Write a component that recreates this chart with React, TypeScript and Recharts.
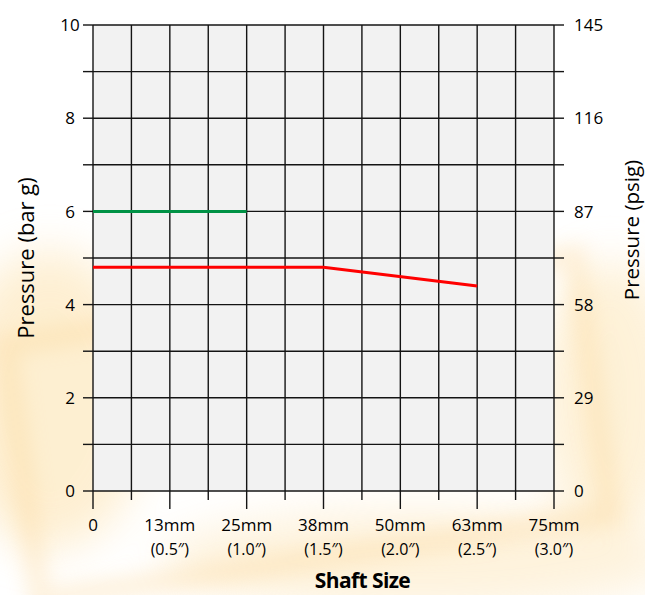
import React from 'react';
import { LineChart, Line, XAxis, YAxis, CartesianGrid } from 'recharts';

const xTicks = [0, 0.25, 0.5, 0.75, 1, 1.25, 1.5, 1.75, 2, 2.25, 2.5, 2.75, 3];
const majorX = [0, 0.5, 1, 1.5, 2, 2.5, 3];
const mmLabels = ['0', '13mm', '25mm', '38mm', '50mm', '63mm', '75mm'];
const inchLabels = ['', '(0.5″)', '(1.0″)', '(1.5″)', '(2.0″)', '(2.5″)', '(3.0″)'];
const barTicks = [0, 1, 2, 3, 4, 5, 6, 7, 8, 9, 10];
const barLabels = ['0', '', '2', '', '4', '', '6', '', '8', '', '10'];
const psigLabels = ['0', '', '29', '', '58', '', '87', '', '116', '', '145'];

const greenSeries = [
  { x: 0, y: 6 },
  { x: 1, y: 6 },
];
const redSeries = [
  { x: 0, y: 4.8 },
  { x: 1.5, y: 4.8 },
  { x: 2.5, y: 4.4 },
];

const FONT = '"Open Sans", "Noto Sans", sans-serif';
const INK = '#141414';
const TXT = '#000';

function XTick(props: any) {
  const { x, y, payload } = props;
  const idx = majorX.indexOf(payload.value);
  const major = idx >= 0;
  return (
    <g>
      <line x1={x} x2={x} y1={y} y2={y + (major ? 18 : 9)} stroke={INK} strokeWidth={1.4} />
      {major && (
        <text x={x} y={y + 40} textAnchor="middle" fontSize={17} fill={TXT} fontFamily={FONT}>
          {mmLabels[idx]}
        </text>
      )}
      {major && inchLabels[idx] && (
        <text x={x} y={y + 64} textAnchor="middle" fontSize={16} fill={TXT} fontFamily={FONT}>
          {inchLabels[idx]}
        </text>
      )}
    </g>
  );
}

function LeftTick(props: any) {
  const { x, y, payload } = props;
  const i = barTicks.indexOf(payload.value);
  return (
    <text x={x - 13} y={y} dy="0.36em" textAnchor="middle" fontSize={17} fill={TXT} fontFamily={FONT}>
      {barLabels[i]}
    </text>
  );
}

function RightTick(props: any) {
  const { x, y, payload } = props;
  const i = barTicks.indexOf(payload.value);
  return (
    <text x={x + 10} y={y} dy="0.36em" textAnchor="start" fontSize={17} fill={TXT} fontFamily={FONT}>
      {psigLabels[i]}
    </text>
  );
}

function Watermark() {
  return (
    <svg width={645} height={595} style={{ position: 'absolute', left: 0, top: 0 }}>
      <defs>
        <filter id="blurBig" x="-50%" y="-50%" width="200%" height="200%">
          <feGaussianBlur stdDeviation="22" />
        </filter>
        <filter id="blurSmall" x="-50%" y="-50%" width="200%" height="200%">
          <feGaussianBlur stdDeviation="10" />
        </filter>
      </defs>
      <g filter="url(#blurBig)" opacity={0.55}>
        <ellipse cx={50} cy={400} rx={100} ry={150} fill="#fde2ad" />
        <ellipse cx={610} cy={400} rx={70} ry={140} fill="#fde6b8" />
        <ellipse cx={420} cy={560} rx={260} ry={50} fill="#fde8c0" />
      </g>
      <g filter="url(#blurSmall)" opacity={0.3}>
        <polygon
          points="5,345 575,255 610,515 40,600"
          fill="none"
          stroke="#fbd28e"
          strokeWidth={22}
        />
      </g>
    </svg>
  );
}

export default function App() {
  return (
    <div style={{ position: 'absolute', left: 0, top: 0, width: 645, height: 595 }}>
      <Watermark />
      <div style={{ position: 'absolute', left: 0, top: 0 }}>
        <LineChart
          width={645}
          height={595}
          margin={{ top: 25, right: 0, bottom: 34, left: 0 }}
        >
          <CartesianGrid
            yAxisId="left"
            fill="#f2f2f2"
            fillOpacity={1}
            stroke={INK}
            strokeWidth={1.4}
            horizontal
            vertical
          />
          <XAxis
            type="number"
            dataKey="x"
            domain={[0, 3]}
            ticks={xTicks}
            interval={0}
            height={70}
            tickSize={0}
            tickMargin={0}
            tickLine={false}
            axisLine={false}
            tick={<XTick />}
            label={{
              content: (p: any) => {
                const vb = p.viewBox;
                return (
                  <text
                    x={vb.x + vb.width / 2 + 39}
                    y={vb.y + 97}
                    textAnchor="middle"
                    fontSize={21}
                    fontWeight={700}
                    fill={TXT}
                    fontFamily={FONT}
                    letterSpacing={-0.6}
                  >
                    Shaft Size
                  </text>
                );
              },
            }}
          />
          <YAxis
            yAxisId="left"
            orientation="left"
            type="number"
            domain={[0, 10]}
            ticks={barTicks}
            interval={0}
            width={93}
            tickSize={10}
            tickMargin={0}
            tickLine={{ stroke: INK, strokeWidth: 1.4 }}
            axisLine={false}
            tick={<LeftTick />}
            label={{
              content: (p: any) => {
                const vb = p.viewBox;
                const cx = vb.x + 26;
                const cy = vb.y + vb.height / 2;
                return (
                  <text
                    x={cx}
                    y={cy}
                    dy="0.35em"
                    textAnchor="middle"
                    fontSize={22}
                    fill={TXT}
                    fontFamily={FONT}
                    transform={`rotate(-90 ${cx} ${cy})`}
                  >
                    Pressure (bar g)
                  </text>
                );
              },
            }}
          />
          <YAxis
            yAxisId="right"
            orientation="right"
            type="number"
            domain={[0, 10]}
            ticks={barTicks}
            interval={0}
            width={91}
            tickSize={10}
            tickMargin={0}
            tickLine={{ stroke: INK, strokeWidth: 1.4 }}
            axisLine={false}
            tick={<RightTick />}
            label={{
              content: (p: any) => {
                const vb = p.viewBox;
                const cx = vb.x + 78;
                const cy = vb.y + vb.height / 2 - 28;
                return (
                  <text
                    x={cx}
                    y={cy}
                    dy="0.35em"
                    textAnchor="middle"
                    fontSize={20.5}
                    fill={TXT}
                    fontFamily={FONT}
                    transform={`rotate(-90 ${cx} ${cy})`}
                  >
                    Pressure (psig)
                  </text>
                );
              },
            }}
          />
          <Line
            yAxisId="right"
            data={redSeries}
            dataKey="y"
            type="linear"
            stroke="none"
            strokeWidth={0}
            dot={false}
            activeDot={false}
            legendType="none"
            isAnimationActive={false}
          />
          <Line
            yAxisId="left"
            data={greenSeries}
            dataKey="y"
            type="linear"
            stroke="#009245"
            strokeWidth={3}
            dot={false}
            activeDot={false}
            isAnimationActive={false}
          />
          <Line
            yAxisId="left"
            data={redSeries}
            dataKey="y"
            type="linear"
            stroke="#ff0000"
            strokeWidth={3}
            dot={false}
            activeDot={false}
            isAnimationActive={false}
          />
        </LineChart>
      </div>
    </div>
  );
}
